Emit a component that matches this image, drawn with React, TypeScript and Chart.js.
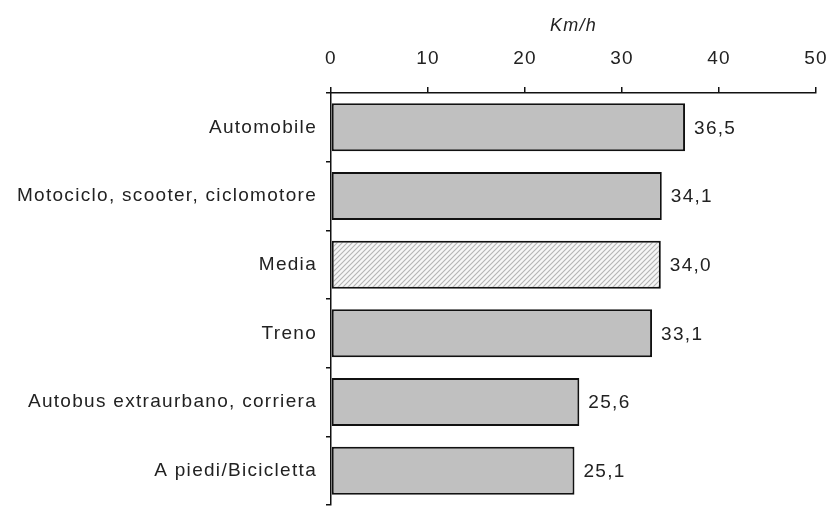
import React, { useEffect, useRef } from "react";
import { Chart, registerables } from "chart.js";

Chart.register(...registerables);

const categories = [
  "Automobile",
  "Motociclo, scooter, ciclomotore",
  "Media",
  "Treno",
  "Autobus extraurbano, corriera",
  "A piedi/Bicicletta",
];
const speeds = [36.5, 34.1, 34.0, 33.1, 25.6, 25.1];
const hatchedCategory = "Media";
const axisTitle = "Km/h";
const xMin = 0;
const xMax = 50;
const xStep = 10;

const FONT = "'Liberation Sans', Arial, sans-serif";
const SPACING = "1.3px";

function makeHatch(): CanvasPattern | string {
  const c = document.createElement("canvas");
  c.width = 5;
  c.height = 5;
  const g = c.getContext("2d");
  if (!g) return "#e0e0e0";
  g.fillStyle = "#f6f6f6";
  g.fillRect(0, 0, 5, 5);
  g.strokeStyle = "#b4b4b4";
  g.lineWidth = 1.1;
  g.beginPath();
  g.moveTo(-1, 6);
  g.lineTo(6, -1);
  g.moveTo(-1, 1);
  g.lineTo(1, -1);
  g.moveTo(4, 6);
  g.lineTo(6, 4);
  g.stroke();
  const p = g.createPattern(c, "repeat");
  return p || "#e0e0e0";
}

function applySpacing(chart: any) {
  try {
    chart.ctx.letterSpacing = SPACING;
  } catch (e) {}
}

const letterSpacingPlugin = {
  id: "letterSpacing",
  beforeInit: applySpacing,
  beforeUpdate: applySpacing,
  beforeLayout: applySpacing,
  beforeDraw: applySpacing,
};

const valueLabelPlugin = {
  id: "valueLabels",
  afterDatasetsDraw(chart: any) {
    const ctx = chart.ctx;
    const meta = chart.getDatasetMeta(0);
    ctx.save();
    ctx.letterSpacing = SPACING;
    ctx.font = `19px ${FONT}`;
    ctx.fillStyle = "#222";
    ctx.textAlign = "left";
    ctx.textBaseline = "middle";
    meta.data.forEach((bar: any, i: number) => {
      const v = chart.data.datasets[0].data[i] as number;
      const txt = v.toFixed(1).replace(".", ",");
      ctx.fillText(txt, bar.x + 9, bar.y + 1);
    });
    ctx.restore();
  },
};

export default function App() {
  const ref = useRef<HTMLCanvasElement | null>(null);

  useEffect(() => {
    if (!ref.current) return;
    const hatch = makeHatch();
    const fills = categories.map((c) => (c === hatchedCategory ? hatch : "#c0c0c0"));
    const chart = new Chart(ref.current, {
      type: "bar",
      data: {
        labels: categories,
        datasets: [
          {
            data: speeds,
            backgroundColor: fills as any,
            borderColor: "#111",
            borderWidth: 2,
            borderSkipped: false,
            barPercentage: 0.7,
            categoryPercentage: 1,
          },
        ],
      },
      options: {
        indexAxis: "y",
        animation: false,
        responsive: false,
        devicePixelRatio: 1,
        layout: { padding: { left: 0, right: 15, top: 0, bottom: 1 } },
        plugins: {
          legend: { display: false },
          tooltip: { enabled: false },
          title: { display: false },
        },
        scales: {
          x: {
            position: "top",
            min: xMin,
            max: xMax,
            ticks: {
              stepSize: xStep,
              color: "#222",
              font: { family: FONT, size: 19 },
              padding: 17,
              maxRotation: 0,
            },
            grid: {
              drawOnChartArea: false,
              drawTicks: true,
              tickLength: 6,
              color: "#111",
              lineWidth: 1.5,
            },
            border: { display: true, color: "#111", width: 1.5 },
            title: {
              display: true,
              text: axisTitle,
              color: "#222",
              font: { family: FONT, size: 18, style: "italic" },
              padding: { top: 15, bottom: 0 },
            },
            afterFit(scale: any) {
              scale.height = 93;
              scale.paddingLeft = 0;
              scale.paddingRight = 0;
            },
          },
          y: {
            ticks: {
              color: "#222",
              font: { family: FONT, size: 19 },
              padding: 9,
            },
            grid: {
              offset: true,
              drawOnChartArea: false,
              drawTicks: true,
              tickLength: 5,
              color: "#111",
              lineWidth: 1.5,
            },
            border: { display: true, color: "#111", width: 1.5 },
            afterFit(scale: any) {
              scale.width = 331;
              scale.paddingTop = 0;
              scale.paddingBottom = 0;
            },
          },
        },
      },
      plugins: [letterSpacingPlugin, valueLabelPlugin],
    });
    return () => chart.destroy();
  }, []);

  return (
    <div style={{ position: "absolute", left: 0, top: 0, width: 831, height: 506, background: "#fff" }}>
      <canvas ref={ref} width={831} height={506} style={{ width: 831, height: 506, display: "block" }} />
    </div>
  );
}
